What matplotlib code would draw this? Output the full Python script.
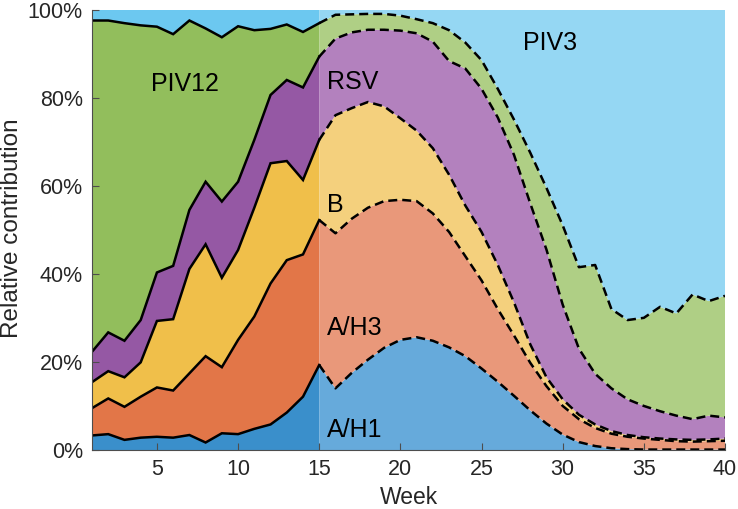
import matplotlib
matplotlib.use("Agg")
import matplotlib.pyplot as plt
import numpy as np

weeks = list(range(1, 41))
series_names = ["A/H1", "A/H3", "B", "RSV", "PIV12", "PIV3"]

a_h1 = [3.3, 3.6, 2.3, 2.8, 3.0, 2.8, 3.4, 1.7, 3.8, 3.6,
        4.8, 5.8, 8.5, 12.1, 19.3, 14.0, 17.5, 20.5, 23.2, 25.0,
        25.6, 24.8, 23.3, 21.3, 18.5, 15.5, 12.3, 9.0, 6.0, 3.5,
        1.8, 0.9, 0.4, 0.2, 0.1, 0.1, 0.1, 0.1, 0.1, 0.1]
a_h3 = [6.2, 8.1, 7.5, 9.3, 11.2, 10.7, 14.0, 19.6, 15.0, 21.4,
        25.5, 32.0, 34.6, 32.3, 32.9, 35.2, 35.0, 34.5, 33.3, 31.8,
        30.9, 28.9, 26.2, 22.7, 20.0, 16.5, 13.7, 10.8, 8.5, 6.5,
        5.2, 4.1, 3.3, 2.8, 2.5, 2.2, 1.9, 1.8, 1.9, 2.0]
b_flu = [5.9, 6.2, 6.7, 7.8, 15.1, 16.2, 23.7, 25.4, 20.3, 20.4,
         24.7, 27.3, 22.5, 16.9, 18.2, 26.8, 25.1, 24.0, 21.5, 18.5,
         16.0, 14.8, 13.0, 11.5, 11.0, 10.0, 7.5, 4.2, 2.0, 1.5,
         1.0, 0.8, 0.6, 0.4, 0.3, 0.3, 0.4, 0.4, 0.4, 0.5]
rsv = [6.9, 8.8, 8.3, 9.6, 11.0, 12.1, 13.4, 14.2, 17.3, 15.5,
       15.4, 15.5, 18.4, 21.0, 18.9, 17.4, 17.2, 16.4, 17.4, 19.9,
       22.1, 24.2, 25.8, 31.1, 32.5, 33.5, 33.5, 32.0, 29.0, 21.5,
       15.0, 11.5, 9.7, 8.1, 7.1, 6.2, 5.4, 4.7, 5.4, 4.8]
piv12 = [75.2, 70.8, 72.1, 66.9, 55.8, 52.6, 43.0, 34.8, 37.3, 35.3,
         24.9, 15.0, 12.6, 12.6, 7.6, 5.4, 4.1, 3.6, 3.6, 3.4,
         3.2, 4.2, 7.0, 5.9, 6.5, 6.5, 8.0, 11.5, 14.0, 18.0,
         18.5, 24.7, 18.0, 18.0, 20.0, 23.7, 23.2, 28.3, 26.0, 27.6]
piv3 = [2.5, 2.5, 3.1, 3.6, 3.9, 5.6, 2.5, 4.3, 6.3, 3.8,
        4.7, 4.4, 3.4, 5.1, 3.1, 1.2, 1.1, 1.0, 1.0, 1.4,
        2.2, 3.1, 4.7, 7.5, 11.5, 18.0, 25.0, 32.5, 40.5, 49.0,
        58.5, 58.0, 68.0, 70.5, 70.0, 67.5, 69.0, 64.7, 66.2, 65.0]

split_week = 15
y_ticks = [0, 20, 40, 60, 80, 100]
y_tick_labels = ["0%", "20%", "40%", "60%", "80%", "100%"]
x_ticks = [5, 10, 15, 20, 25, 30, 35, 40]

solid_colors = ["#3A8FCB", "#E27648", "#F0BF4A", "#9558A4", "#92BE5C", "#6CC8F0"]
light_colors = ["#66AADB", "#E9987A", "#F4D07D", "#B381BE", "#AFCF85", "#95D7F3"]

plt.rcParams["font.family"] = ["Liberation Sans", "DejaVu Sans"]

W, H = 738, 509
fig = plt.figure(figsize=(W / 100, H / 100), dpi=100)
ax = fig.add_axes([92 / W, 1 - 450 / H, (725 - 92) / W, (450 - 9.5) / H])

w = np.array(weeks)
data = np.array([a_h1, a_h3, b_flu, rsv, piv12, piv3])
k = weeks.index(split_week)

ax.stackplot(w[:k + 1], data[:, :k + 1], colors=solid_colors, linewidth=0)
ax.stackplot(w[k:], data[:, k:], colors=light_colors, linewidth=0)

cum = np.cumsum(data, axis=0)
for i in range(5):
    ax.plot(w[:k + 1], cum[i, :k + 1], color="black", lw=1.8, solid_joinstyle="miter")
    ax.plot(w[k:], cum[i, k:], color="black", lw=1.8, linestyle=(0, (3.6, 2.0)))

ax.set_xlim(1, 40)
ax.set_ylim(0, 100)
ax.set_xticks(x_ticks)
ax.set_yticks(y_ticks)
ax.set_yticklabels(y_tick_labels)
ax.tick_params(direction="in", length=5, width=0.8, colors="#4D4D4D",
               labelcolor="#262626", labelsize=15.5, pad=6.5)
for s in ["top", "right"]:
    ax.spines[s].set_visible(False)
for s in ["left", "bottom"]:
    ax.spines[s].set_color("#4D4D4D")
    ax.spines[s].set_linewidth(0.8)
ax.set_axisbelow(False)

fig.text(408.5 / W, 4.5 / H, "Week", fontsize=16.5, color="#262626",
         ha="center", va="baseline")
fig.text(12 / W, 1 - 228 / H, "Relative contribution", fontsize=17.5,
         color="#262626", ha="center", va="center", rotation=90)

lab_kw = dict(fontsize=18, color="black", va="center")
ax.text(6.73, 83.1, "PIV12", ha="center", **lab_kw)
ax.text(29.2, 92.4, "PIV3", ha="center", **lab_kw)
ax.text(15.5, 83.5, "RSV", ha="left", **lab_kw)
ax.text(15.5, 55.6, "B", ha="left", **lab_kw)
ax.text(15.5, 27.7, "A/H3", ha="left", **lab_kw)
ax.text(15.5, 4.5, "A/H1", ha="left", **lab_kw)

fig.savefig("out.png", dpi=100)
